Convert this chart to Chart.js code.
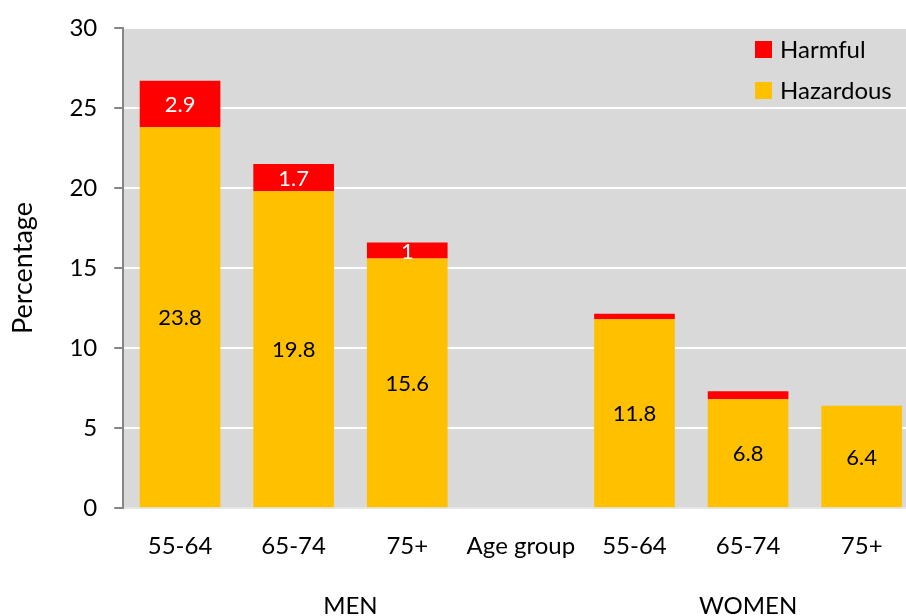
<!DOCTYPE html>
<html>
<head>
<meta charset="utf-8">
<script src="https://cdn.jsdelivr.net/npm/chart.js@4/dist/chart.umd.min.js"></script>
<style>
html,body{margin:0;padding:0;background:#fff;overflow:hidden;}
#wrap{width:920px;height:616px;position:relative;}
</style>
</head>
<body>
<div id="wrap"><canvas id="c"></canvas></div>
<script>
const categories = ['55-64', '65-74', '75+', 'Age group', '55-64', '65-74', '75+'];
const hazardous = [23.8, 19.8, 15.6, null, 11.8, 6.8, 6.4];
const harmful = [2.9, 1.7, 1.0, null, 0.35, 0.5, 0];
const groupLabels = ['MEN', 'WOMEN'];
const groupStart = [0, 4];
const groupEnd = [3, 6];
const yTicks = [0, 5, 10, 15, 20, 25, 30];

const FONT = 'Lato, "Open Sans", sans-serif';
const RED = '#FF0000';
const YELLOW = '#FFC000';
const PLOT_BG = '#D9D9D9';

const plotBg = {
  id: 'plotBg',
  beforeDraw(chart) {
    const a = chart.chartArea, ctx = chart.ctx;
    ctx.save();
    ctx.fillStyle = PLOT_BG;
    ctx.fillRect(a.left, a.top, a.right - a.left, a.bottom - a.top);
    ctx.restore();
  }
};

const extras = {
  id: 'extras',
  afterDatasetsDraw(chart) {
    const ctx = chart.ctx;
    ctx.save();
    ctx.textAlign = 'center';
    ctx.textBaseline = 'middle';
    ctx.font = '22px ' + FONT;
    const mh = chart.getDatasetMeta(0);
    mh.data.forEach((el, i) => {
      const v = hazardous[i];
      if (v == null) return;
      const p = el.getProps(['x', 'y', 'base'], true);
      ctx.fillStyle = '#000';
      ctx.fillText(String(v), p.x, (p.y + p.base) / 2 + 1);
    });
    const mr = chart.getDatasetMeta(1);
    mr.data.forEach((el, i) => {
      const v = harmful[i];
      if (v == null || v < 1) return;
      const p = el.getProps(['x', 'y', 'base'], true);
      ctx.fillStyle = '#fff';
      ctx.fillText(String(v), p.x, (p.y + p.base) / 2 + 1);
    });
    ctx.restore();
  },
  afterDraw(chart) {
    const ctx = chart.ctx, x = chart.scales.x;
    ctx.save();
    ctx.font = '24px ' + FONT;
    ctx.fillStyle = '#000';
    ctx.textAlign = 'center';
    ctx.textBaseline = 'middle';
    groupLabels.forEach((g, i) => {
      const cx = (x.getPixelForValue(groupStart[i]) + x.getPixelForValue(groupEnd[i])) / 2;
      ctx.fillText(g, cx, 606);
    });
    const items = [['Harmful', RED], ['Hazardous', YELLOW]];
    const lx = 755, ly = [49, 90];
    items.forEach((it, i) => {
      ctx.fillStyle = it[1];
      ctx.fillRect(lx, ly[i] - 8, 17, 17);
      ctx.fillStyle = '#000';
      ctx.textAlign = 'left';
      ctx.fillText(it[0], lx + 25, ly[i] + 1);
    });
    ctx.restore();
  }
};

new Chart(document.getElementById('c'), {
  type: 'bar',
  data: {
    labels: categories,
    datasets: [
      { label: 'Hazardous', data: hazardous, backgroundColor: YELLOW, stack: 's', categoryPercentage: 0.71, barPercentage: 1 },
      { label: 'Harmful', data: harmful, backgroundColor: RED, stack: 's', categoryPercentage: 0.71, barPercentage: 1 }
    ]
  },
  options: {
    responsive: true,
    maintainAspectRatio: false,
    animation: false,
    layout: { padding: { top: 28, right: 1.5, bottom: 31, left: 0 } },
    plugins: { legend: { display: false }, tooltip: { enabled: false } },
    datasets: { bar: { borderWidth: 0 } },
    scales: {
      x: {
        stacked: true,
        grid: { display: false, drawTicks: false },
        border: { display: true, color: '#E6E6E6', width: 2 },
        ticks: { color: '#000', font: { family: FONT, size: 24 }, padding: 24, maxRotation: 0, autoSkip: false }
      },
      y: {
        stacked: true,
        min: 0, max: 30,
        afterBuildTicks(s) { s.ticks = yTicks.map(v => ({ value: v })); },
        afterFit(s) { s.paddingTop = 14; s.paddingBottom = 14; },
        grid: { color: '#FFFFFF', lineWidth: 2, tickColor: '#868686', tickLength: 9 },
        border: { color: '#868686', width: 2 },
        ticks: { color: '#000', font: { family: FONT, size: 24 }, padding: 17 },
        title: { display: true, text: 'Percentage', color: '#000', font: { family: FONT, size: 27 }, padding: { top: 7, bottom: 13 } }
      }
    }
  },
  plugins: [plotBg, extras]
});
</script>
</body>
</html>
